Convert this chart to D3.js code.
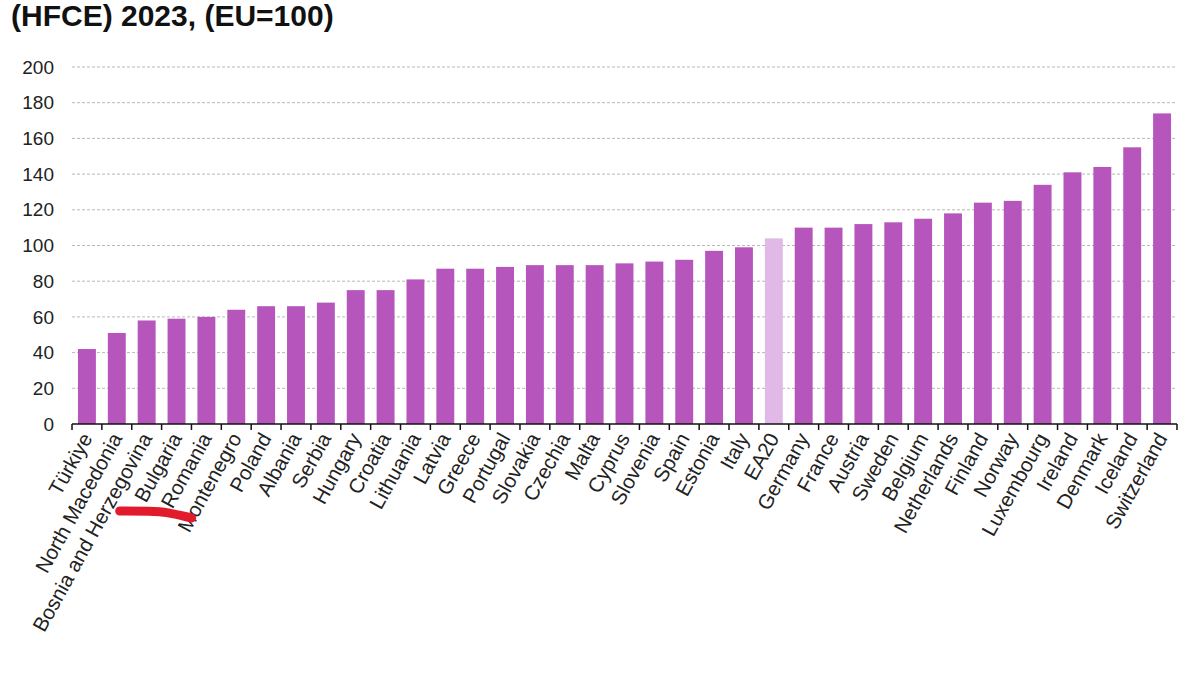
<!DOCTYPE html>
<html>
<head>
<meta charset="utf-8">
<script src="https://cdn.jsdelivr.net/npm/d3@7"></script>
<style>
  body { margin: 0; background: #fff; }
  svg { font-family: Arial, "Liberation Sans", sans-serif; }
</style>
</head>
<body>
<div id="chart"></div>
<script>
var countries = ['Türkiye','North Macedonia','Bosnia and Herzegovina','Bulgaria','Romania','Montenegro',
  'Poland','Albania','Serbia','Hungary','Croatia','Lithuania','Latvia','Greece','Portugal','Slovakia',
  'Czechia','Malta','Cyprus','Slovenia','Spain','Estonia','Italy','EA20','Germany','France','Austria',
  'Sweden','Belgium','Netherlands','Finland','Norway','Luxembourg','Ireland','Denmark','Iceland','Switzerland'];
var values = [42,51,58,59,60,64,66,66,68,75,75,81,87,87,88,89,89,89,90,91,92,97,99,104,
  110,110,112,113,115,118,124,125,134,141,144,155,174];
var yTicks = [0,20,40,60,80,100,120,140,160,180,200];
var highlight = ['EA20'];

var width = 1200, height = 675;
var margin = {top: 67, right: 23, bottom: 251, left: 72};

var svg = d3.select('#chart').append('svg')
  .attr('width', width)
  .attr('height', height);

svg.append('text')
  .attr('x', 11).attr('y', 26)
  .attr('font-size', 30).attr('font-weight', 'bold')
  .attr('fill', '#111')
  .text('(HFCE) 2023, (EU=100)');

var x = d3.scaleBand()
  .domain(countries)
  .range([margin.left, width - margin.right])
  .paddingInner(0.4).paddingOuter(0.2);

var y = d3.scaleLinear()
  .domain([0, 200])
  .range([height - margin.bottom, margin.top]);

// grid
svg.append('g').selectAll('line').data(yTicks.slice(1)).enter().append('line')
  .attr('x1', margin.left).attr('x2', width - margin.right)
  .attr('y1', function(d){ return y(d); }).attr('y2', function(d){ return y(d); })
  .attr('stroke', '#b8b8b8').attr('stroke-width', 1).attr('stroke-dasharray', '3,2');

// y labels
svg.append('g').selectAll('text').data(yTicks).enter().append('text')
  .attr('x', 54).attr('y', function(d){ return y(d); })
  .attr('dy', '0.35em').attr('text-anchor', 'end')
  .attr('font-size', 19).attr('fill', '#222')
  .text(function(d){ return d; });

// bars
svg.append('g').selectAll('rect').data(countries).enter().append('rect')
  .attr('x', function(d){ return x(d); })
  .attr('width', x.bandwidth())
  .attr('y', function(d, i){ return y(values[i]); })
  .attr('height', function(d, i){ return y(0) - y(values[i]); })
  .attr('fill', function(d){ return highlight.indexOf(d) >= 0 ? '#e1b9e6' : '#b656bd'; });

// x axis line and ticks at band boundaries
var step = x.step();
var bounds = countries.map(function(d){ return x(d) - x.paddingInner() * step / 2; });
bounds.push(width - margin.right);
bounds[0] = margin.left;
var axis = svg.append('g');
axis.append('line')
  .attr('x1', margin.left).attr('x2', width - margin.right)
  .attr('y1', y(0)).attr('y2', y(0))
  .attr('stroke', '#111').attr('stroke-width', 1.5);
axis.selectAll('line.tick').data(bounds).enter().append('line')
  .attr('class', 'tick')
  .attr('x1', function(d){ return d; }).attr('x2', function(d){ return d; })
  .attr('y1', y(0)).attr('y2', y(0) + 6)
  .attr('stroke', '#111').attr('stroke-width', 1.5);

// x labels
axis.selectAll('text').data(countries).enter().append('text')
  .attr('transform', function(d){
    return 'translate(' + (x(d) + x.bandwidth() / 2 + 6) + ',' + (y(0) + 14) + ') rotate(-61)';
  })
  .attr('text-anchor', 'end')
  .attr('font-size', 20.5).attr('fill', '#222')
  .text(function(d){ return d; });

// red hand-drawn mark over the labels
var bx = x('Bosnia and Herzegovina') + x.bandwidth() / 2;
svg.append('path')
  .attr('d', d3.line().curve(d3.curveBasis)([
    [bx - 27, y(0) + 87], [bx + 5, y(0) + 87], [bx + 20, y(0) + 88], [bx + 45, y(0) + 94]
  ]))
  .attr('fill', 'none').attr('stroke', '#e21b2c')
  .attr('stroke-width', 9).attr('stroke-linecap', 'round');
</script>
</body>
</html>
